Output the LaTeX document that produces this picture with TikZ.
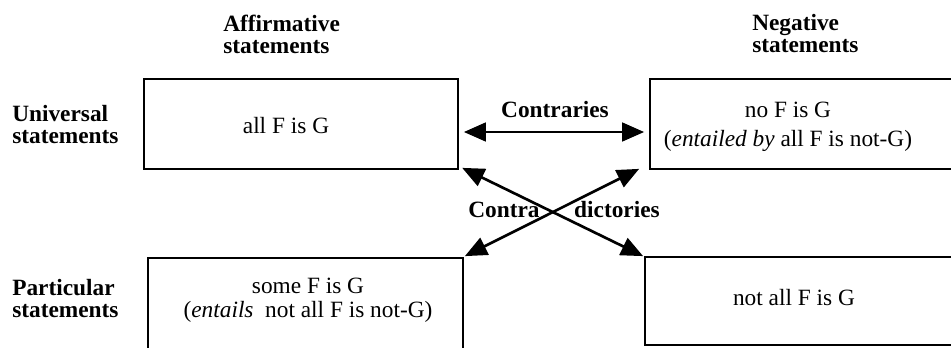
\documentclass[tikz,border=0pt]{standalone}
\usepackage{fontspec}
\setmainfont{Liberation Serif}
\usepackage{tikz}
\usetikzlibrary{arrows.meta}

\begin{document}
\begin{tikzpicture}[x=0.75pt, y=-0.75pt,
    caja/.style={draw, line width=1.3pt, inner sep=0pt},
    etiqueta/.style={font=\fontsize{17.5}{16.5}\selectfont\bfseries, align=left, inner sep=0pt},
    texto/.style={font=\fontsize{17.5}{18}\selectfont, align=center, inner sep=0pt},
    flecha/.style={{Triangle[length=16.5pt,width=14pt]}-{Triangle[length=16.5pt,width=14pt]}, line width=2pt}]
	% Marco de la figura
	\useasboundingbox (0,0) rectangle (951,347);
	\clip (0,0) rectangle (951,347);

	% Titulos de columnas y filas
	\node[etiqueta, anchor=base west] (col-afirm) at (223,53) {Affirmative\\statements};
	\node[etiqueta, anchor=base west] (col-neg) at (752,52) {Negative\\statements};
	\node[etiqueta, anchor=base west] (fila-univ) at (12,143) {Universal\\statements};
	\node[etiqueta, anchor=base west] (fila-part) at (12,317) {Particular\\statements};

	% Cajas
	\node[caja, minimum width=235.5pt, minimum height=67.5pt] (univ-afirm) at (301,124) {};
	\node[caja, minimum width=270pt, minimum height=67.5pt] (univ-neg) at (830,124) {};
	\node[caja, minimum width=236.25pt, minimum height=72pt] (part-afirm) at (305.5,306) {};
	\node[caja, minimum width=273.75pt, minimum height=66pt] (part-neg) at (827.5,301) {};

	% Textos de las cajas
	\node[texto, anchor=base] (txt-ua) at (286,133) {all F is G};
	\node[texto, anchor=base] (txt-un) at (788,146) {no F is G\\[3.75pt](\textit{entailed by} all F is not-G)};
	\node[texto, anchor=base] (txt-pa) at (308,317) {some F is G\\(\textit{entails}\ \ not all F is not-G)};
	\node[texto, anchor=base] (txt-pn) at (794,305) {not all F is G};

	% Flechas
	\draw[flecha] ([xshift=3.75pt,yshift=-6pt]univ-afirm.east) -- ([xshift=-3.75pt,yshift=-6pt]univ-neg.west);
	\draw[flecha] ([xshift=2.5pt,yshift=1.5pt]univ-afirm.south east) -- ([xshift=-0.75pt]part-neg.north west);
	\draw[flecha] ([xshift=-7.5pt,yshift=0.75pt]univ-neg.south west) -- ([xshift=0.75pt,yshift=0.75pt]part-afirm.north east);

	% Nombres de las relaciones
	\node[etiqueta, anchor=base] (contrarias) at (555,117) {Contraries};
	\node[etiqueta, anchor=base] (contra) at (504,217) {Contra};
	\node[etiqueta, anchor=base] (dictorias) at (617,217) {dictories};
\end{tikzpicture}
\end{document}
